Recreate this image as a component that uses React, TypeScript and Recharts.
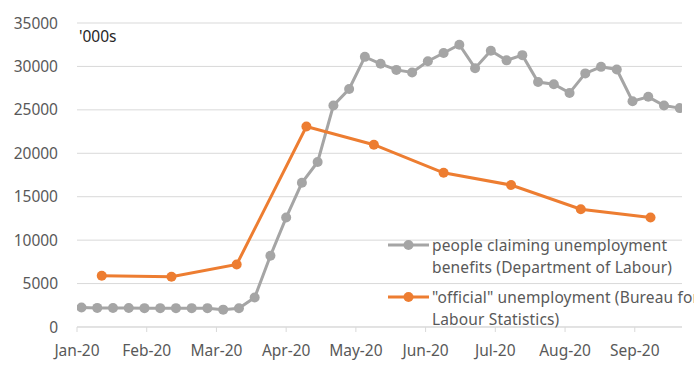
import React from 'react'
import { LineChart, Line, XAxis, YAxis, CartesianGrid, Legend } from 'recharts'

// weekly claims, Fridays
const claimDates = [
  '2020-01-03', '2020-01-10', '2020-01-17', '2020-01-24', '2020-01-31',
  '2020-02-07', '2020-02-14', '2020-02-21', '2020-02-28',
  '2020-03-06', '2020-03-13', '2020-03-20', '2020-03-27',
  '2020-04-03', '2020-04-10', '2020-04-17', '2020-04-24',
  '2020-05-01', '2020-05-08', '2020-05-15', '2020-05-22', '2020-05-29',
  '2020-06-05', '2020-06-12', '2020-06-19', '2020-06-26',
  '2020-07-03', '2020-07-10', '2020-07-17', '2020-07-24', '2020-07-31',
  '2020-08-07', '2020-08-14', '2020-08-21', '2020-08-28',
  '2020-09-04', '2020-09-11', '2020-09-18', '2020-09-25',
]
const claimValues = [
  2250, 2200, 2180, 2180, 2170, 2170, 2170, 2170, 2170, 2000, 2150, 3400, 8200,
  12600, 16600, 19000, 25500, 27400, 31100, 30300, 29600, 29300, 30600, 31550,
  32500, 29800, 31800, 30700, 31300, 28200, 27950, 26950, 29200, 29950, 29650,
  26000, 26500, 25500, 25200,
]

// monthly BLS figures, reference week of the 12th
const officialDates = [
  '2020-01-12', '2020-02-12', '2020-03-12', '2020-04-12', '2020-05-12',
  '2020-06-12', '2020-07-12', '2020-08-12', '2020-09-12',
]
const officialValues = [5900, 5790, 7200, 23080, 20990, 17750, 16340, 13560, 12600]

const yTicks = [0, 5000, 10000, 15000, 20000, 25000, 30000, 35000]
const xTickDates = [
  '2020-01-01', '2020-02-01', '2020-03-03', '2020-04-03', '2020-05-04',
  '2020-06-04', '2020-07-05', '2020-08-05', '2020-09-05',
]
const xTickLabels = ['Jan-20', 'Feb-20', 'Mar-20', 'Apr-20', 'May-20', 'Jun-20', 'Jul-20', 'Aug-20', 'Sep-20']

const claimName = 'people claiming unemployment benefits (Department of Labour)'
const officialName = '"official" unemployment (Bureau for Labour Statistics)'

const GRAY = '#a5a5a5'
const ORANGE = '#ed7d31'
const FONT = '"Noto Sans", sans-serif'

const legendItems = [
  { name: claimName, color: GRAY },
  { name: officialName, color: ORANGE },
]

const dayOf = (s: string) => {
  const [y, m, d] = s.split('-').map(Number)
  return (Date.UTC(y, m - 1, d) - Date.UTC(2020, 0, 1)) / 86400000
}

const claimData = claimDates.map((d, i) => ({ t: dayOf(d), v: claimValues[i] }))
const officialData = officialDates.map((d, i) => ({ t: dayOf(d), v: officialValues[i] }))
const xTicks = xTickDates.map(dayOf)

// Excel-style legend, keeps series order
function LegendBox() {
  return (
    <div style={{ fontFamily: FONT, fontSize: 15.5, color: '#595959', lineHeight: '22px', letterSpacing: 0.15 }}>
      {legendItems.map((p, i) => (
        <div key={i} style={{ display: 'flex', alignItems: 'flex-start', marginBottom: 8 }}>
          <svg width={44} height={22} style={{ flex: 'none' }}>
            <line x1={0} y1={11} x2={41} y2={11} stroke={p.color} strokeWidth={3} />
            <circle cx={20.5} cy={11} r={5} fill={p.color} />
          </svg>
          <div style={{ width: 285 }}>{p.name}</div>
        </div>
      ))}
    </div>
  )
}

export default function App() {
  return (
    <div
      style={{
        position: 'absolute',
        left: 0,
        top: 0,
        width: 694,
        height: 369,
        overflow: 'hidden',
        background: '#fff',
        fontFamily: FONT,
      }}
    >
      <LineChart width={694} height={369} margin={{ top: 23, right: 12, left: 0, bottom: 0 }}>
        <CartesianGrid vertical={false} stroke="#d9d9d9" strokeWidth={1} />
        <XAxis
          type="number"
          dataKey="t"
          domain={[0, 269]}
          ticks={xTicks}
          tickFormatter={(v: number) => xTickLabels[xTicks.indexOf(v)] ?? ''}
          stroke="#d9d9d9"
          tickSize={5}
          tickMargin={13}
          height={42}
          tick={{ fill: '#595959', fontSize: 15.5, fontFamily: FONT }}
          allowDataOverflow
        />
        <YAxis
          type="number"
          domain={[0, 35000]}
          ticks={yTicks}
          axisLine={false}
          tickLine={false}
          tickSize={0}
          tickMargin={19}
          width={77}
          tick={{ fill: '#595959', fontSize: 15.5, fontFamily: FONT }}
        />
        <Line
          data={claimData}
          dataKey="v"
          name={claimName}
          type="linear"
          stroke={GRAY}
          strokeWidth={3}
          dot={{ r: 5, fill: GRAY, stroke: GRAY, strokeWidth: 0 }}
          activeDot={false}
          isAnimationActive={false}
        />
        <Line
          data={officialData}
          dataKey="v"
          name={officialName}
          type="linear"
          stroke={ORANGE}
          strokeWidth={3}
          dot={{ r: 5, fill: ORANGE, stroke: ORANGE, strokeWidth: 0 }}
          activeDot={false}
          isAnimationActive={false}
        />
        <Legend
          layout="vertical"
          align="center"
          verticalAlign="middle"
          content={<LegendBox />}
          wrapperStyle={{ position: 'absolute', left: 388, top: 234, width: 340 }}
        />
      </LineChart>
      <div
        style={{
          position: 'absolute',
          left: 79,
          top: 25,
          fontSize: 15.5,
          lineHeight: '22px',
          color: '#262626',
        }}
      >
        '000s
      </div>
    </div>
  )
}
